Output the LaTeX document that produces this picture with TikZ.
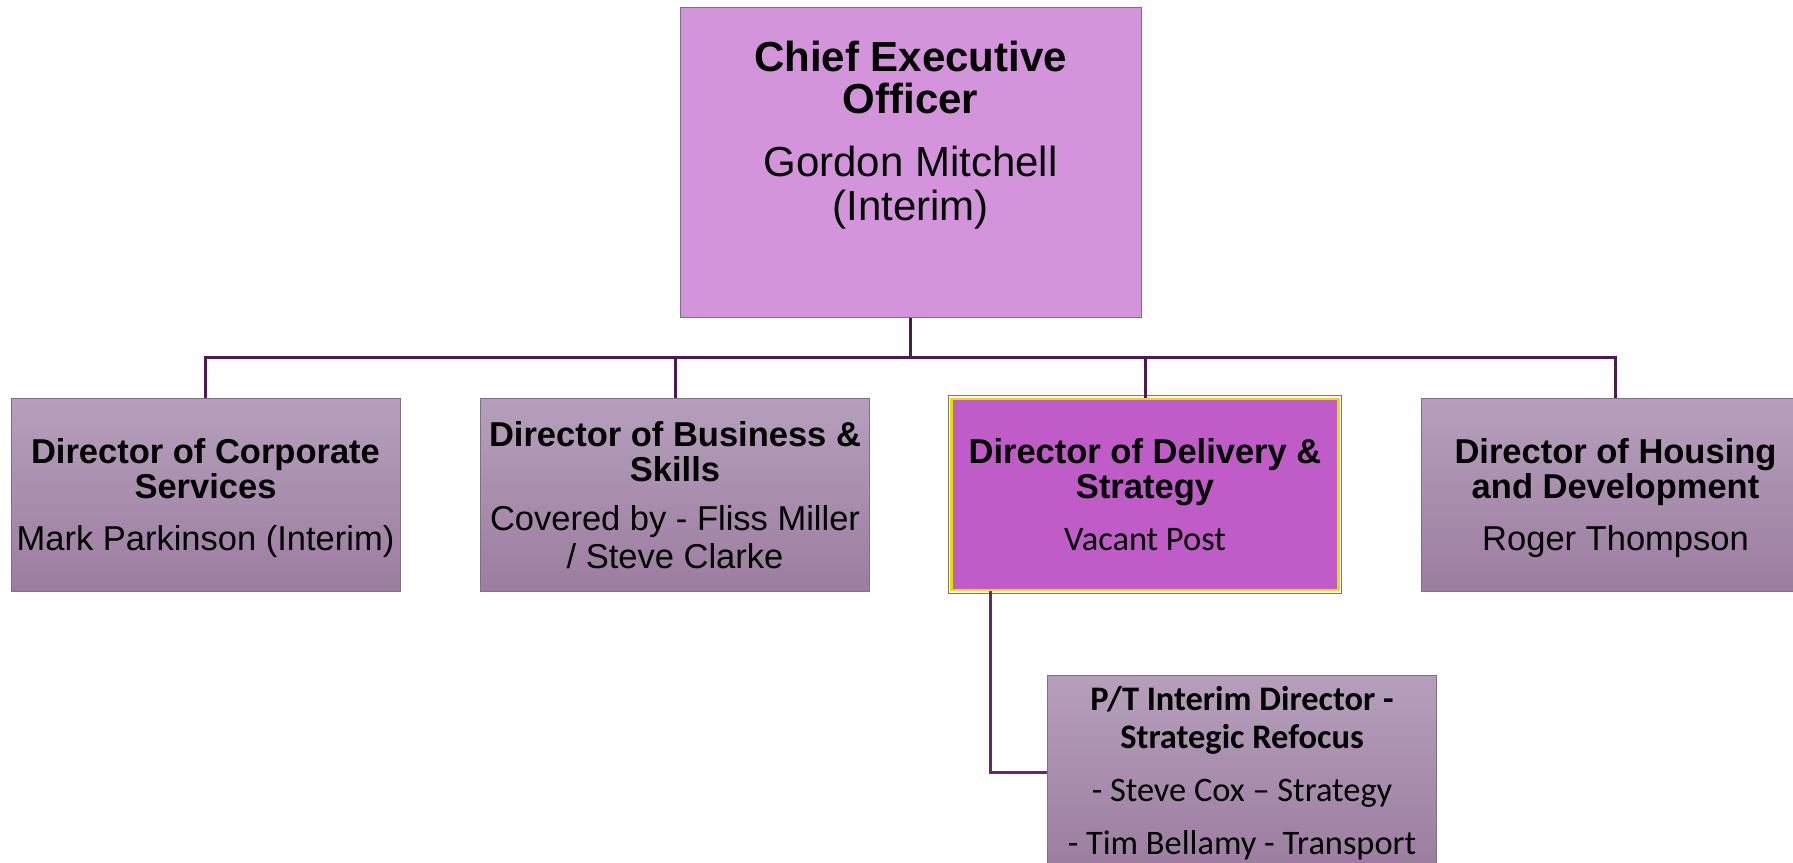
\documentclass[tikz,border=0pt]{standalone}
\usepackage{fontspec}
\setmainfont{Liberation Sans}
\newfontfamily\calib{Carlito}
\definecolor{ceoC}{RGB}{211,148,219}
\definecolor{dirTop}{RGB}{182,159,188}
\definecolor{dirBot}{RGB}{156,125,160}
\definecolor{delC}{RGB}{192,92,200}
\definecolor{yel}{RGB}{232,222,0}
\definecolor{lineC}{RGB}{78,26,84}
\definecolor{subLine}{RGB}{104,38,112}
\definecolor{edgeC}{RGB}{125,112,128}
\definecolor{footC}{RGB}{95,95,95}
\begin{document}
\begin{tikzpicture}[x=0.5pt,y=-0.5pt,
  box/.style={draw=edgeC, line width=0.5pt, inner sep=0, minimum width=194.5pt, minimum height=96.5pt},
  dirbox/.style={box, top color=dirTop, bottom color=dirBot},
  conn/.style={draw=lineC, line width=1.5pt},
  subconn/.style={draw=subLine, line width=1.5pt},
  ceohd/.style={anchor=base, inner sep=0, font=\fontsize{21}{22}\selectfont\bfseries},
  ceonm/.style={anchor=base, inner sep=0, font=\fontsize{21}{22}\selectfont},
  hd/.style={anchor=base, inner sep=0, font=\fontsize{17.25}{18}\selectfont\bfseries},
  nm/.style={anchor=base, inner sep=0, font=\fontsize{17.25}{18}\selectfont},
  chd/.style={anchor=base, inner sep=0, font=\calib\fontsize{17.2}{18}\selectfont\bfseries},
  cnm/.style={anchor=base, inner sep=0, font=\calib\fontsize{17.2}{18}\selectfont}]
\useasboundingbox (0,0) rectangle (1793,862);
\clip (0,0) rectangle (1793,862);

% boxes
\node[box, fill=ceoC, minimum width=230.5pt, minimum height=155pt] (ceo) at (910.5,162) {};
\node[dirbox] (d1) at (205.5,494.5) {};
\node[dirbox] (d2) at (675,494.5) {};
\node[box, fill=delC, draw=yel, line width=1.4pt, minimum width=193.5pt, minimum height=95.5pt] (d3) at (1145,494.5) {};
\draw[edgeC, line width=0.4pt] ([xshift=-0.9pt,yshift=0.9pt]d3.north west) rectangle ([xshift=0.9pt,yshift=-0.9pt]d3.south east);
\node[dirbox] (d4) at (1615.5,494.5) {};
\node[dirbox] (sub) at (1242,772) {};

% connectors
\draw[conn] (ceo.south) -- ++(0,40) -| (d1.north);
\draw[conn] (ceo.south) -- ++(0,40) -| (d2.north);
\draw[conn] (ceo.south) -- ++(0,40) -| (d3.north);
\draw[conn] (ceo.south) -- ++(0,40) -| (d4.north);
\draw[subconn] (d3.south west) ++(40,0) |- (sub.west);

% CEO text
\node[ceohd] (ceo1) at (910.5,71) {Chief Executive};
\node[ceohd] (ceo2) at (910.5,113) {Officer};
\node[ceonm] (ceo3) at (910.5,176) {Gordon Mitchell};
\node[ceonm] (ceo4) at (910.5,220) {(Interim)};

% Director 1
\node[hd] (d1a) at (205.5,463) {Director of Corporate};
\node[hd] (d1b) at (205.5,498) {Services};
\node[nm] (d1c) at (205.5,550) {Mark Parkinson (Interim)};

% Director 2
\node[hd] (d2a) at (675,446) {Director of Business \&};
\node[hd] (d2b) at (675,481) {Skills};
\node[nm] (d2c) at (675,530) {Covered by - Fliss Miller};
\node[nm] (d2d) at (675,568) {/ Steve Clarke};

% Director 3
\node[hd] (d3a) at (1145,463) {Director of Delivery \&};
\node[hd] (d3b) at (1145,498) {Strategy};
\node[cnm] (d3c) at (1145,550) {Vacant Post};

% Director 4
\node[hd] (d4a) at (1615.5,463) {Director of Housing};
\node[hd] (d4b) at (1615.5,498) {and Development};
\node[nm] (d4c) at (1615.5,550) {Roger Thompson};

% Sub box
\node[chd] (s1) at (1242,710) {P/T Interim Director -};
\node[chd] (s2) at (1242,748) {Strategic Refocus};
\node[cnm] (s3) at (1242,801) {- Steve Cox – Strategy};
\node[cnm] (s4) at (1242,854) {- Tim Bellamy - Transport};

% footer (cut off at the lower edge)
\node[anchor=base, inner sep=0, text=footC, font=\fontsize{22.5}{24}\selectfont] (foot) at (332,897) {2020};
\end{tikzpicture}
\end{document}
